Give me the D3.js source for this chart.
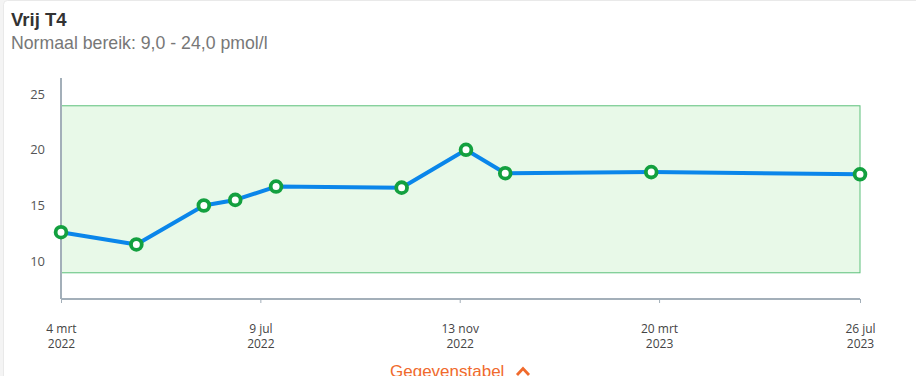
<!DOCTYPE html>
<html>
<head>
<meta charset="utf-8">
<script src="https://cdn.jsdelivr.net/npm/d3@7"></script>
<style>
  html, body { margin: 0; padding: 0; background: #f4f4f4; }
  body { width: 916px; height: 376px; overflow: hidden; font-family: "Segoe UI", "Open Sans", "Noto Sans", Arial, sans-serif; }
</style>
</head>
<body>
<svg id="chart" width="916" height="376"></svg>
<script>
const title = "Vrij T4";
const subtitle = "Normaal bereik: 9,0 - 24,0 pmol/l";
const dates = ["2022-03-04", "2022-04-21", "2022-06-03", "2022-06-23", "2022-07-19", "2022-10-07", "2022-11-17", "2022-12-12", "2023-03-15", "2023-07-26"];
const values = [12.6, 11.5, 15.0, 15.5, 16.7, 16.6, 20.0, 17.9, 18.0, 17.8];
const rangeLow = 9.0;
const rangeHigh = 24.0;
const yTicks = [10, 15, 20, 25];
const xTickDates = ["2022-03-04", "2022-07-09", "2022-11-13", "2023-03-20", "2023-07-26"];
const xTickLabels = [["4 mrt", "2022"], ["9 jul", "2022"], ["13 nov", "2022"], ["20 mrt", "2023"], ["26 jul", "2023"]];
const tableLabel = "Gegevenstabel";

const parse = d3.utcParse("%Y-%m-%d");
const data = dates.map((d, i) => ({ date: parse(d), value: values[i] }));

const svg = d3.select("#chart");
// card
svg.append("rect").attr("x", 3.5).attr("y", 0.5).attr("width", 930).attr("height", 400)
  .attr("rx", 4).attr("fill", "#fff").attr("stroke", "#e9e9e9");

svg.append("text").attr("x", 11).attr("y", 26).attr("font-size", 18.5).attr("font-weight", "bold")
  .attr("fill", "#333").attr("font-family", "Arial, 'Liberation Sans', sans-serif").text(title);
svg.append("text").attr("x", 11).attr("y", 49).attr("font-size", 17.7)
  .attr("fill", "#777").attr("font-family", "Arial, 'Liberation Sans', sans-serif").text(subtitle);

const x = d3.scaleUtc().domain([parse(xTickDates[0]), parse(xTickDates[xTickDates.length - 1])]).range([61, 860]);
const y = d3.scaleLinear().domain([6.6, 26.45]).range([299, 78]);

// normal range band
svg.append("rect")
  .attr("x", x.range()[0]).attr("width", x.range()[1] - x.range()[0])
  .attr("y", y(rangeHigh) + 0.5).attr("height", y(rangeLow) - y(rangeHigh))
  .attr("fill", "#e8f9e8").attr("stroke", "#5cc07a").attr("stroke-width", 1);

// y axis
const yAxis = d3.axisLeft(y).tickValues(yTicks).tickSize(0).tickPadding(16).tickFormat(d3.format("d"));
const gy = svg.append("g").attr("transform", "translate(61,0)").call(yAxis);
gy.select(".domain").remove();
gy.selectAll("text").attr("font-size", 13).attr("fill", "#555").attr("font-family", "'Open Sans', 'Noto Sans', sans-serif");
svg.append("line").attr("x1", 61).attr("x2", 61).attr("y1", y.range()[1]).attr("y2", y.range()[0])
  .attr("stroke", "#a3afb9").attr("stroke-width", 2);

// x axis
const xAxis = d3.axisBottom(x).tickValues(xTickDates.map(parse)).tickSize(4).tickFormat(() => "");
const gx = svg.append("g").attr("transform", "translate(0,299)").call(xAxis);
gx.select(".domain").attr("stroke", "#a3afb9").attr("stroke-width", 2).attr("d", `M${x.range()[0]},0H${x.range()[1]}`);
gx.selectAll(".tick line").attr("stroke", "#a3afb9");
gx.selectAll(".tick").each(function(d, i) {
  const t = d3.select(this).select("text").attr("y", 0).attr("dy", null)
    .attr("font-size", 12).attr("fill", "#444").attr("font-family", "'Open Sans', 'Noto Sans', sans-serif");
  t.append("tspan").attr("x", 0).attr("y", 34).text(xTickLabels[i][0]);
  t.append("tspan").attr("x", 0).attr("y", 49).text(xTickLabels[i][1]);
});

// line
const line = d3.line().x(d => x(d.date)).y(d => y(d.value));
svg.append("path").datum(data).attr("d", line).attr("fill", "none")
  .attr("stroke", "#0a86ea").attr("stroke-width", 4).attr("stroke-linejoin", "round");

svg.selectAll("circle.pt").data(data).join("circle").attr("class", "pt")
  .attr("cx", d => x(d.date)).attr("cy", d => y(d.value)).attr("r", 5.4)
  .attr("fill", "#fff").attr("stroke", "#13a03f").attr("stroke-width", 3.8);

// data table toggle
const tg = svg.append("g");
tg.append("text").attr("x", 390).attr("y", 377).attr("font-size", 17).attr("fill", "#f06a2c")
  .attr("font-family", "Arial, 'Liberation Sans', sans-serif").text(tableLabel);
tg.append("path").attr("d", "M517,375 L523,368.5 L529,375").attr("fill", "none")
  .attr("stroke", "#f06a2c").attr("stroke-width", 2.8);
</script>
</body>
</html>
